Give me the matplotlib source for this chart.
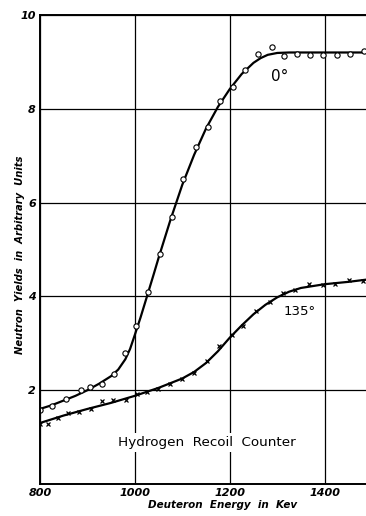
import matplotlib.pyplot as plt

# 0 degree data (circles)
e0 = [800, 825, 855, 886, 905, 930, 956, 979, 1002, 1027, 1052, 1078, 1102,
      1129, 1154, 1180, 1207, 1233, 1260, 1289, 1314, 1342, 1370, 1396, 1425,
      1453, 1482]
y0 = [1.57, 1.67, 1.81, 2.01, 2.07, 2.13, 2.34, 2.79, 3.37, 4.10, 4.90, 5.69,
      6.50, 7.19, 7.62, 8.17, 8.47, 8.83, 9.16, 9.31, 9.13, 9.16, 9.14, 9.15,
      9.14, 9.16, 9.23]

# 135 degree data (crosses)
e135 = [800, 817, 839, 860, 882, 907, 930, 954, 981, 1004, 1026, 1049, 1075,
        1100, 1125, 1152, 1178, 1205, 1228, 1256, 1284, 1312, 1338, 1367,
        1396, 1421, 1451, 1481]
y135 = [1.29, 1.29, 1.40, 1.52, 1.53, 1.60, 1.76, 1.79, 1.79, 1.92, 1.97,
        2.02, 2.13, 2.24, 2.36, 2.63, 2.94, 3.18, 3.37, 3.69, 3.87, 4.07,
        4.14, 4.26, 4.24, 4.26, 4.35, 4.33]

# hand drawn smooth curves
c0_x = [800, 825, 850, 875, 900, 925, 950, 965, 980, 990, 1000, 1012, 1025,
        1040, 1050, 1075, 1100, 1125, 1150, 1175, 1200, 1225, 1250, 1265,
        1280, 1300, 1325, 1400, 1490]
c0_y = [1.60, 1.68, 1.78, 1.88, 2.00, 2.14, 2.30, 2.44, 2.66, 2.88, 3.18,
        3.55, 3.98, 4.48, 4.82, 5.63, 6.38, 7.02, 7.58, 8.04, 8.42, 8.74,
        8.98, 9.08, 9.15, 9.19, 9.20, 9.20, 9.20]
c135_x = [800, 850, 900, 950, 1000, 1050, 1100, 1125, 1150, 1175, 1200, 1225,
          1250, 1275, 1300, 1325, 1350, 1400, 1450, 1490]
c135_y = [1.30, 1.46, 1.60, 1.73, 1.88, 2.05, 2.25, 2.39, 2.58, 2.83, 3.12,
          3.38, 3.62, 3.82, 3.98, 4.10, 4.18, 4.26, 4.31, 4.36]

xticks = [800, 1000, 1200, 1400]
yticks = [2, 4, 6, 8, 10]

fig = plt.figure(figsize=(3.66, 5.16), dpi=100)
ax = fig.add_axes([0.109, 0.062, 0.891, 0.909])

ax.plot(c0_x, c0_y, color='black', lw=1.6)
ax.plot(c135_x, c135_y, color='black', lw=1.6)
ax.plot(e0, y0, 'o', mfc='white', mec='black', ms=3.8, mew=0.8)
ax.plot(e135, y135, 'x', color='black', ms=3, mew=0.9)

ax.set_xlim(800, 1487)
ax.set_ylim(0, 10)
ax.set_xticks(xticks)
ax.set_yticks(yticks)
ax.tick_params(length=0, labelsize=8, pad=3)
for lbl in ax.get_xticklabels() + ax.get_yticklabels():
    lbl.set_fontstyle('italic')
    lbl.set_fontweight('bold')

ax.grid(True, color='black', lw=0.9)
ax.set_axisbelow(True)
for s in ['left', 'bottom', 'top']:
    ax.spines[s].set_linewidth(1.4)
ax.spines['right'].set_visible(False)

ax.text(1305, 8.68, '0°', fontsize=11, ha='center', va='center',
        bbox=dict(fc='white', ec='none', pad=0.5))
ax.text(1347, 3.67, '135°', fontsize=9.5, ha='center', va='center',
        bbox=dict(fc='white', ec='none', pad=0.5))
ax.text(1151, 0.88, 'Hydrogen  Recoil  Counter', fontsize=9.7, ha='center',
        va='center', bbox=dict(fc='white', ec='none', pad=2))

ax.set_xlabel('Deuteron  Energy  in  Kev', fontsize=7.5, style='italic',
              fontweight='bold', labelpad=2)
ax.xaxis.set_label_coords(0.56, -0.035)
ax.set_ylabel('Neutron  Yields  in  Arbitrary  Units', fontsize=7.2,
              style='italic', fontweight='bold', labelpad=2)
ax.yaxis.set_label_coords(-0.046, 0.488)

fig.savefig('out.png', dpi=100)
